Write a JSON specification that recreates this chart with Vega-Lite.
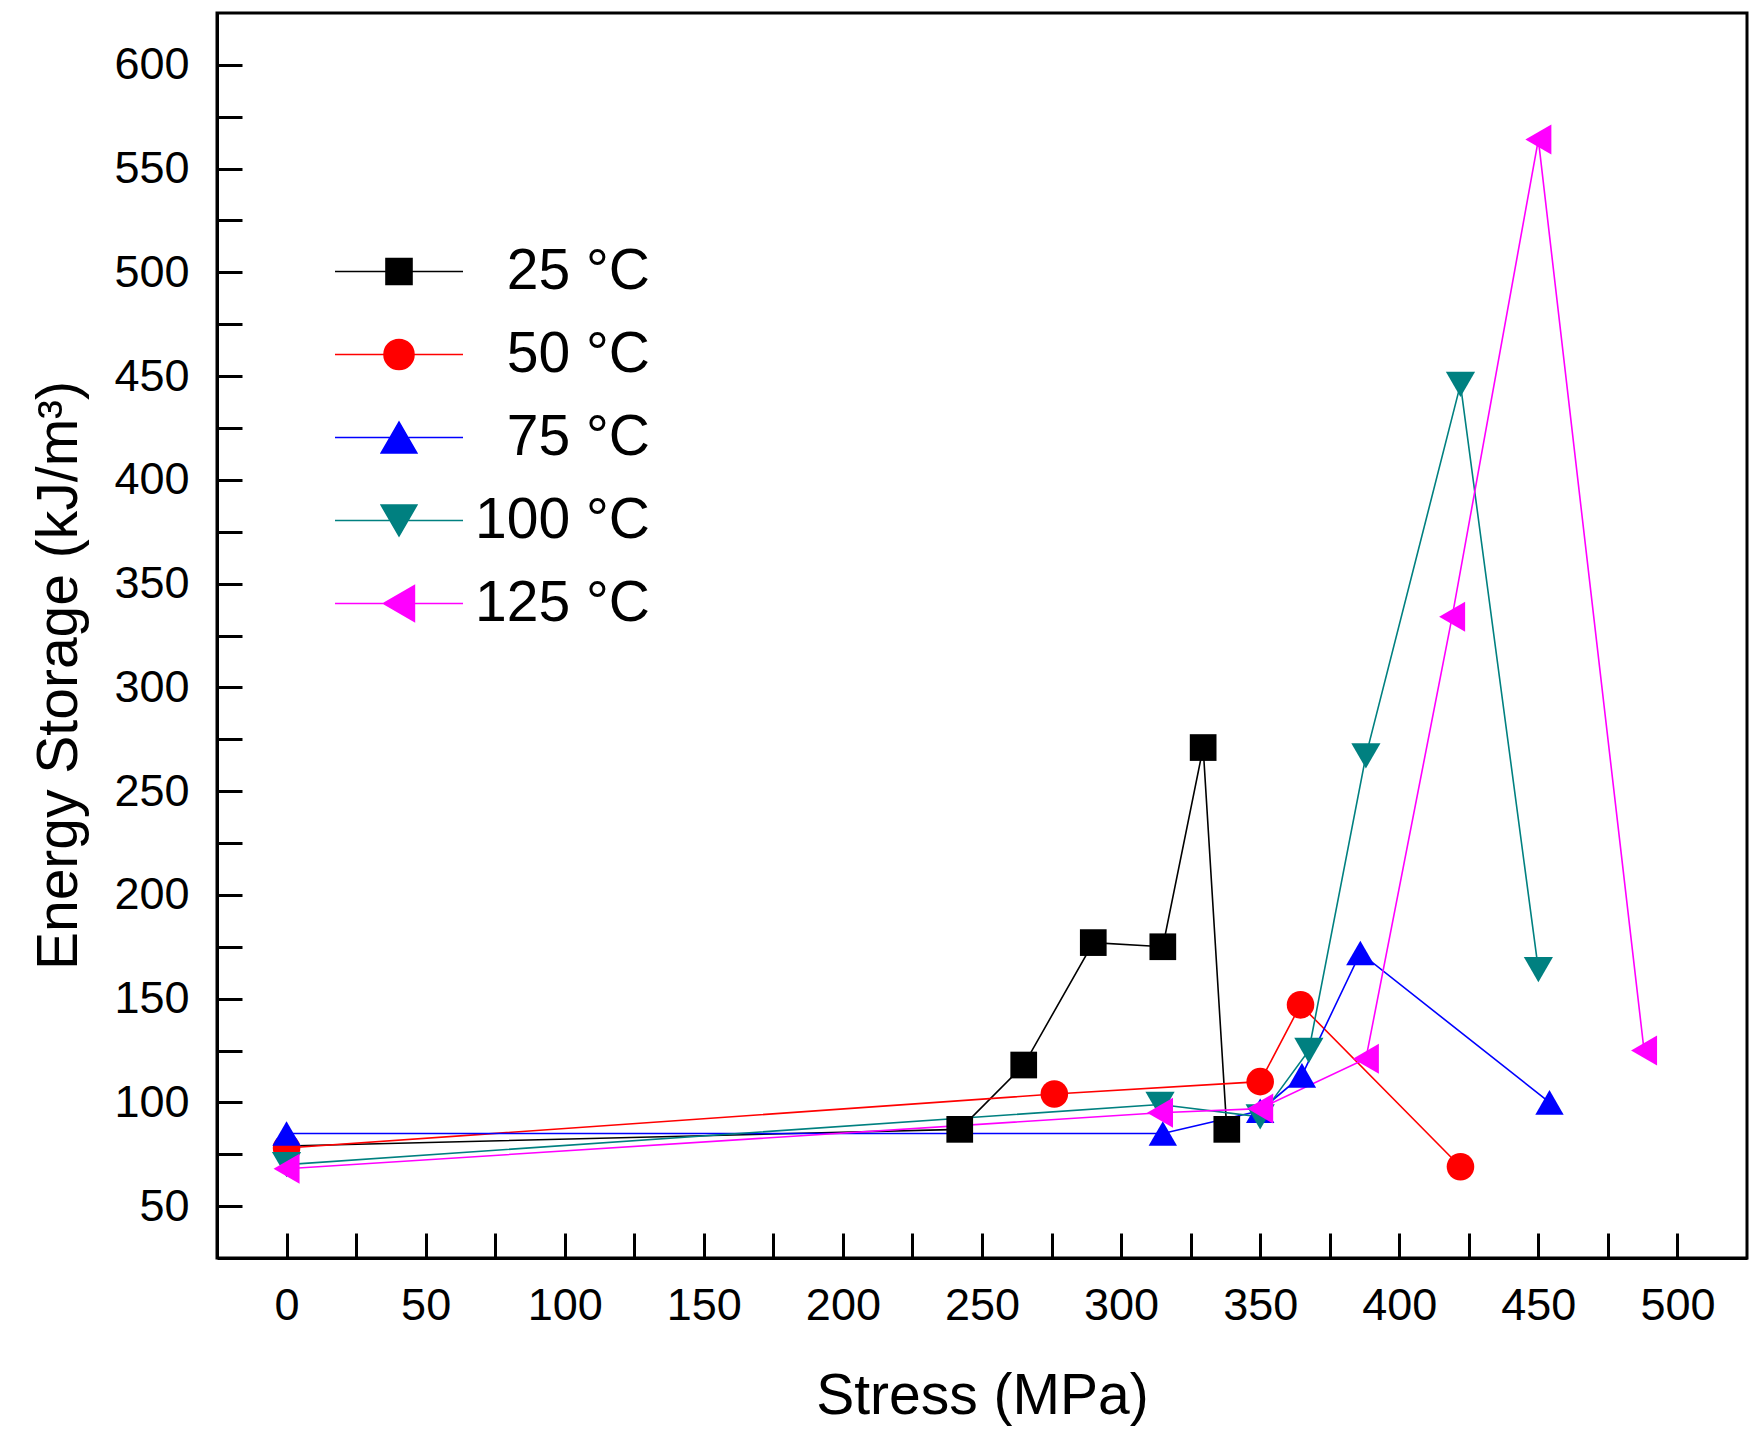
{
  "$schema": "https://vega.github.io/schema/vega-lite/v6.json",
  "width": 1530,
  "height": 1245,
  "autosize": {"type": "none"},
  "padding": {"left": 217, "top": 13, "right": 14, "bottom": 175},
  "background": "white",
  "config": {
    "view": {"stroke": "black", "strokeWidth": 3},
    "font": "Liberation Sans",
    "axis": {
      "grid": false,
      "domainColor": "black",
      "domainWidth": 3,
      "tickColor": "black",
      "tickWidth": 3,
      "tickSize": -25,
      "labelColor": "black",
      "titleColor": "black",
      "labelFont": "Liberation Sans",
      "titleFont": "Liberation Sans",
      "labelFontSize": 45,
      "titleFontSize": 57,
      "titleFontWeight": "normal",
      "labelOverlap": false,
      "labelFlush": false,
      "labelBound": false,
      "labelPadding": 50
    }
  },
  "data": {
    "values": [
      {"series": "25 °C", "stress": 0, "energy": 79},
      {"series": "25 °C", "stress": 242, "energy": 87},
      {"series": "25 °C", "stress": 265, "energy": 118},
      {"series": "25 °C", "stress": 290, "energy": 177},
      {"series": "25 °C", "stress": 315, "energy": 175},
      {"series": "25 °C", "stress": 329.5, "energy": 271},
      {"series": "25 °C", "stress": 338, "energy": 87},
      {"series": "50 °C", "stress": 0, "energy": 78},
      {"series": "50 °C", "stress": 276, "energy": 104},
      {"series": "50 °C", "stress": 350, "energy": 110},
      {"series": "50 °C", "stress": 364.5, "energy": 147},
      {"series": "50 °C", "stress": 422, "energy": 69},
      {"series": "75 °C", "stress": 0, "energy": 85},
      {"series": "75 °C", "stress": 315, "energy": 85},
      {"series": "75 °C", "stress": 350, "energy": 96},
      {"series": "75 °C", "stress": 365, "energy": 113},
      {"series": "75 °C", "stress": 386, "energy": 172},
      {"series": "75 °C", "stress": 454, "energy": 100},
      {"series": "100 °C", "stress": 0, "energy": 70},
      {"series": "100 °C", "stress": 314, "energy": 99},
      {"series": "100 °C", "stress": 350, "energy": 93},
      {"series": "100 °C", "stress": 367.5, "energy": 125},
      {"series": "100 °C", "stress": 388, "energy": 267},
      {"series": "100 °C", "stress": 422, "energy": 446},
      {"series": "100 °C", "stress": 450, "energy": 164},
      {"series": "125 °C", "stress": 0, "energy": 68},
      {"series": "125 °C", "stress": 314, "energy": 95},
      {"series": "125 °C", "stress": 350, "energy": 97},
      {"series": "125 °C", "stress": 388, "energy": 121},
      {"series": "125 °C", "stress": 419, "energy": 334},
      {"series": "125 °C", "stress": 450, "energy": 564},
      {"series": "125 °C", "stress": 488, "energy": 125}
    ]
  },
  "encoding": {
    "x": {
      "field": "stress",
      "type": "quantitative",
      "scale": {"domain": [-25, 525], "nice": false, "zero": false},
      "axis": {
        "values": [0, 25, 50, 75, 100, 125, 150, 175, 200, 225, 250, 275, 300, 325, 350, 375, 400, 425, 450, 475, 500],
        "labelExpr": "datum.value % 50 ? '' : datum.label",
        "title": "Stress (MPa)",
        "titleX": 765,
        "titleY": 155,
        "titleBaseline": "alphabetic",
        "encode": {"ticks": {"update": {"y2": {"signal": "datum.value % 50 ? -14 : -25"}}}}
      }
    },
    "y": {
      "field": "energy",
      "type": "quantitative",
      "scale": {"domain": [25, 625], "nice": false, "zero": false},
      "axis": {
        "values": [50, 75, 100, 125, 150, 175, 200, 225, 250, 275, 300, 325, 350, 375, 400, 425, 450, 475, 500, 525, 550, 575, 600],
        "labelExpr": "datum.value % 50 ? '' : datum.label",
        "labelPadding": 53,
        "title": "Energy Storage (kJ/m³)",
        "titleX": -141,
        "titleY": 662,
        "titleBaseline": "alphabetic",
        "encode": {"ticks": {"update": {"x2": {"signal": "datum.value % 50 ? 14 : 25"}}}}
      }
    },
    "color": {
      "field": "series",
      "type": "nominal",
      "scale": {
        "domain": ["25 °C", "50 °C", "75 °C", "100 °C", "125 °C"],
        "range": ["#000000", "#ff0000", "#0000ff", "#008080", "#ff00ff"]
      },
      "legend": {
        "orient": "none",
        "legendX": 0,
        "legendY": 230,
        "title": null,
        "padding": 0,
        "symbolSize": 4,
        "symbolStrokeWidth": 1.6,
        "labelAlign": "right",
        "labelFont": "Liberation Sans",
        "labelFontSize": 57,
        "labelColor": "black",
        "labelLimit": 0,
        "rowPadding": 25,
        "encode": {
          "symbols": {
            "update": {
              "x": {"value": 182},
              "shape": {"signal": "datum.value === '25 °C' ? 'M-64,0H64M-13,-13H13V13H-13Z' : datum.value === '50 °C' ? 'M-64,0H64M-15,0A15,15 0 1,0 15,0A15,15 0 1,0 -15,0Z' : datum.value === '75 °C' ? 'M-64,0H64M0,-15.4L-17.8,15.4L17.8,15.4Z' : datum.value === '100 °C' ? 'M-64,0H64M0,15.4L-17.8,-15.4L17.8,-15.4Z' : 'M-64,0H64M-15.4,0L15.4,-17.8L15.4,17.8Z'"},
              "size": {"value": 4},
              "fill": {"signal": "scale('color', datum.value)"},
              "stroke": {"signal": "scale('color', datum.value)"},
              "strokeWidth": {"value": 1.6},
              "opacity": {"value": 1}
            }
          },
          "labels": {
            "update": {
              "x": {"value": 433}
            }
          }
        }
      }
    }
  },
  "layer": [
    {
      "mark": {"type": "line", "strokeWidth": 1.6}
    },
    {
      "transform": [{"filter": "datum.series !== '25 °C' || datum.stress > 0"}],
      "mark": {"type": "point", "filled": true, "opacity": 1, "strokeWidth": 0},
      "encoding": {
        "shape": {
          "field": "series",
          "type": "nominal",
          "sort": ["25 °C", "50 °C", "75 °C", "100 °C", "125 °C"],
          "scale": {
            "range": ["square", "circle", "triangle-up", "triangle-down", "triangle-left"]
          },
          "legend": null
        },
        "size": {
          "field": "series",
          "type": "nominal",
          "sort": ["25 °C", "50 °C", "75 °C", "100 °C", "125 °C"],
          "scale": {
            "range": [713, 900, 1270, 1270, 1270]
          },
          "legend": null
        }
      }
    }
  ]
}
